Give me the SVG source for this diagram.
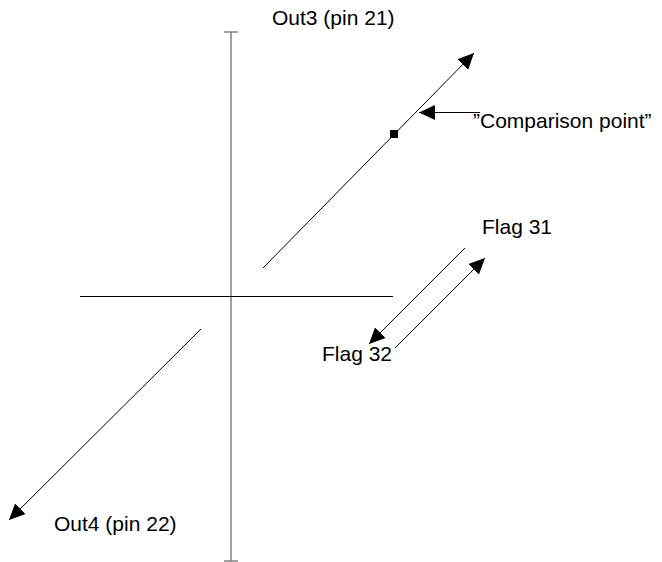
<svg xmlns="http://www.w3.org/2000/svg" width="662" height="562" viewBox="0 0 662 562">
<style>
text{font-family:"Liberation Sans",Arial,sans-serif;font-size:21px;fill:#000}
.ln{stroke:#000;stroke-width:1;fill:none}
.ax{stroke:#808080;stroke-width:1.5;fill:none}
</style>
<defs>
<marker id="ah" markerUnits="userSpaceOnUse" markerWidth="18" markerHeight="16" refX="16" refY="7.5" orient="auto">
<path d="M0,0 L16,7.5 L0,15 Z" fill="#000"/>
</marker>
</defs>
<rect width="662" height="562" fill="#fff"/>
<g id="axes">
<line class="ax" x1="231" y1="32" x2="231" y2="561"/>
<line class="ax" x1="224" y1="32" x2="238" y2="32"/>
<line class="ax" x1="224" y1="561" x2="238" y2="561"/>
<line class="ln" x1="80" y1="296.5" x2="393" y2="296.5"/>
</g>
<g id="connectors">
<line class="ln" x1="263" y1="268" x2="474" y2="53" marker-end="url(#ah)"/>
<line class="ln" x1="480" y1="112.5" x2="419" y2="112.5" marker-end="url(#ah)"/>
<line class="ln" x1="465" y1="248" x2="369" y2="344" marker-end="url(#ah)"/>
<line class="ln" x1="395" y1="348" x2="485" y2="258" marker-end="url(#ah)"/>
<line class="ln" x1="201" y1="329" x2="9" y2="520" marker-end="url(#ah)"/>
</g>
<g id="comparison-point">
<rect x="390" y="130" width="8" height="8" fill="#000"/>
</g>
<g id="labels">
<text x="272" y="25">Out3 (pin 21)</text>
<text x="473" y="128">”Comparison point”</text>
<text x="482" y="234">Flag 31</text>
<text x="322" y="361">Flag 32</text>
<text x="54" y="531">Out4 (pin 22)</text>
</g>
</svg>
